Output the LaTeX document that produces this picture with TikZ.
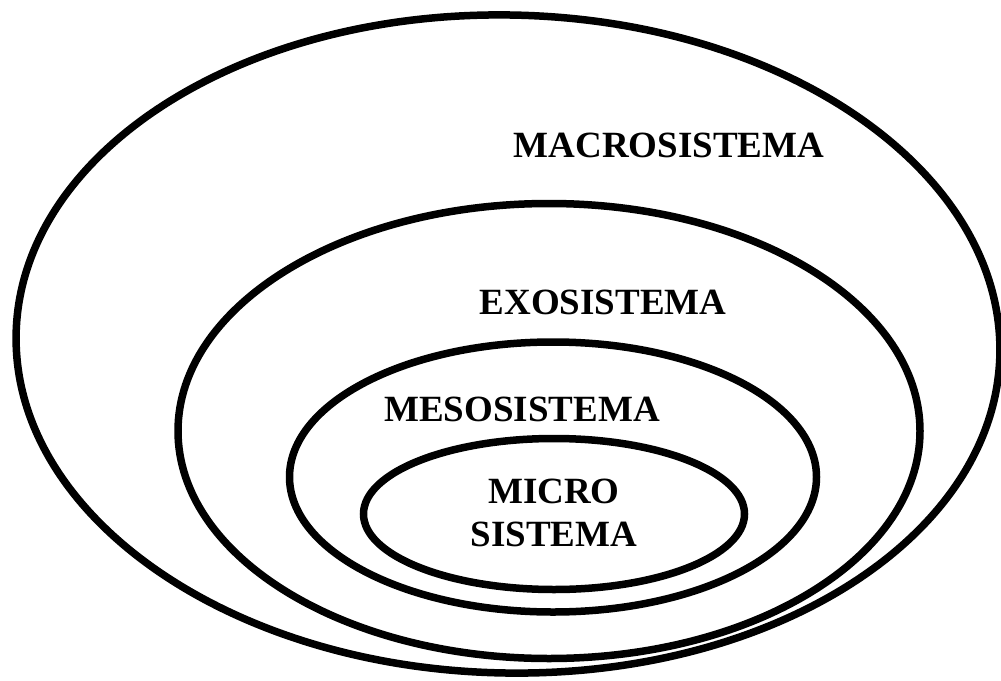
\documentclass[tikz,border=0pt]{standalone}
\usepackage{fontspec}
\setmainfont{Liberation Serif}
\usetikzlibrary{shapes.geometric}
\begin{document}
\begin{tikzpicture}[x=1pt,y=-1pt,
  ring/.style={draw=black, line width=7.5pt, ellipse, inner sep=0pt, fill=none},
  lbl/.style={font=\bfseries\fontsize{37}{43}\selectfont, align=center, inner sep=0pt}]
\useasboundingbox (0,0) rectangle (1001,680);
\node[ring, minimum width=984pt, minimum height=658pt, rotate=-1.2] (macro) at (508,344) {};
\node[ring, minimum width=742pt, minimum height=455pt] (exo) at (549,431) {};
\node[ring, minimum width=527pt, minimum height=270pt] (meso) at (553,477) {};
\node[ring, minimum width=381pt, minimum height=151pt] (micro) at (554,514) {};
\node[lbl] (tmacro) at (669,145) {MACROSISTEMA};
\node[lbl] (texo) at (603,302) {EXOSISTEMA};
\node[lbl] (tmeso) at (522,409) {MESOSISTEMA};
\node[lbl] (tmicro) at (554,513) {MICRO\\SISTEMA};
\end{tikzpicture}
\end{document}
